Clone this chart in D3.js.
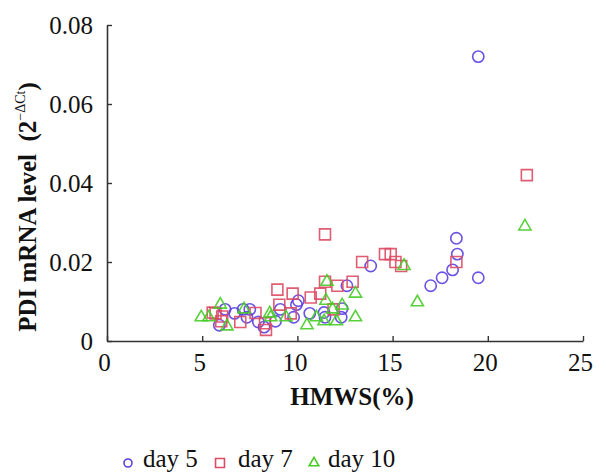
<!DOCTYPE html>
<html><head><meta charset="utf-8">
<script src="https://cdn.jsdelivr.net/npm/d3@7"></script>
<style>body{margin:0;background:#fff}svg{display:block}</style>
</head><body>
<svg id="c" width="606" height="473"></svg>
<script>
const xTicks = [0, 5, 10, 15, 20, 25];
const yTicks = [0, 0.02, 0.04, 0.06, 0.08];
const seriesNames = ["day 5", "day 7", "day 10"];
const day5X = [5.9, 6.2, 6.7, 7.15, 7.35, 7.5, 7.95, 8.25, 8.85, 9.1, 9.8, 9.95, 10.05, 10.65, 11.4, 11.45, 12.3, 12.35, 12.6, 13.85, 17.0, 17.6, 18.15, 18.35, 18.4, 19.5, 19.5];
const day5Y = [0.004, 0.008, 0.007, 0.008, 0.006, 0.008, 0.0048, 0.0035, 0.005, 0.008, 0.006, 0.0092, 0.0102, 0.007, 0.0072, 0.006, 0.006, 0.0082, 0.014, 0.019, 0.014, 0.016, 0.018, 0.026, 0.022, 0.072, 0.016];
const day7X = [5.55, 5.7, 6.0, 6.05, 7.0, 7.8, 8.3, 8.35, 8.95, 9.05, 9.65, 9.75, 10.7, 11.2, 11.45, 11.45, 11.9, 12.1, 12.9, 13.4, 14.6, 14.9, 15.15, 15.45, 18.35, 22.05];
const day7Y = [0.0072, 0.007, 0.005, 0.0062, 0.0048, 0.0071, 0.0045, 0.0028, 0.013, 0.0092, 0.007, 0.012, 0.011, 0.012, 0.027, 0.015, 0.008, 0.014, 0.015, 0.02, 0.022, 0.022, 0.02, 0.019, 0.02, 0.042];
const day10X = [4.95, 5.35, 5.95, 6.3, 7.2, 8.55, 8.6, 9.4, 10.5, 11.0, 11.4, 11.5, 11.55, 11.85, 12.05, 12.35, 13.05, 13.05, 15.6, 16.3, 21.95];
const day10Y = [0.006, 0.006, 0.0092, 0.0037, 0.008, 0.007, 0.006, 0.006, 0.004, 0.006, 0.005, 0.0102, 0.015, 0.008, 0.005, 0.009, 0.012, 0.006, 0.019, 0.0098, 0.029];

const colors = ["#5a3fe0", "#dc4a64", "#46cc26"];
const shapes = [d3.symbolCircle, d3.symbolSquare, d3.symbolTriangle];
const sizes = [100, 120, 64];
const series = [
  {name: seriesNames[0], xs: day5X, ys: day5Y},
  {name: seriesNames[1], xs: day7X, ys: day7Y},
  {name: seriesNames[2], xs: day10X, ys: day10Y}
];

const svg = d3.select("#c");
const font = "'Liberation Serif','Times New Roman',serif";
const x = d3.scaleLinear().domain([0, 25]).range([107, 583]);
const y = d3.scaleLinear().domain([0, 0.08]).range([341, 25]);

// axes
const gx = svg.append("g").attr("transform", "translate(0,341)")
  .call(d3.axisBottom(x).tickValues(xTicks).tickSize(-5).tickSizeOuter(0).tickPadding(12).tickFormat(d3.format("d")));
const gy = svg.append("g").attr("transform", "translate(107,0)")
  .call(d3.axisLeft(y).tickValues(yTicks).tickSize(-5).tickSizeOuter(0).tickPadding(14).tickFormat(d => d === 0 ? "0" : d3.format(".2f")(d)));
[gx, gy].forEach(g => {
  g.select(".domain").attr("stroke", "#333").attr("stroke-width", 1.6);
  g.selectAll(".tick line").attr("stroke", "#333").attr("stroke-width", 1.4);
  g.selectAll(".tick text").attr("font-family", font).attr("font-size", 25).attr("fill", "#111");
});
gx.selectAll(".tick text").attr("dy", "0.72em").attr("dx", -3);
gy.selectAll(".tick text").attr("dy", "0.34em");

// points
series.forEach((s, i) => {
  const sym = d3.symbol().type(shapes[i]).size(sizes[i]);
  svg.append("g").selectAll("path").data(s.xs.map((v, j) => [v, s.ys[j]])).join("path")
    .attr("d", sym)
    .attr("transform", d => `translate(${x(d[0])},${y(d[1])})`)
    .attr("fill", "none").attr("stroke", colors[i]).attr("stroke-width", 1.6).attr("opacity", 0.9);
});

// axis titles
svg.append("text").attr("x", 352).attr("y", 405).attr("text-anchor", "middle")
  .attr("font-family", font).attr("font-size", 25).attr("font-weight", "bold").attr("fill", "#111")
  .text("HMWS(%)");
const yt = svg.append("text").attr("transform", "translate(36,207) rotate(-90)").attr("text-anchor", "middle")
  .attr("font-family", font).attr("font-size", 25).attr("font-weight", "bold").attr("fill", "#111");
yt.append("tspan").text("PDI mRNA level\u00a0 (2");
yt.append("tspan").attr("font-size", 14).attr("font-weight", "normal").attr("dy", -11).text("\u2212\u0394Ct");
yt.append("tspan").attr("dy", 11).text(")");

// legend
const legX = [128, 220, 314];
const legTX = [143, 238, 328];
const legSizes = [50, 80, 40];
series.forEach((s, i) => {
  svg.append("path").attr("d", d3.symbol().type(shapes[i]).size(legSizes[i]))
    .attr("transform", `translate(${legX[i]},463)`)
    .attr("fill", "none").attr("stroke", colors[i]).attr("stroke-width", 1.6);
  svg.append("text").attr("x", legTX[i]).attr("y", 467)
    .attr("font-family", font).attr("font-size", 25).attr("fill", "#111").text(s.name);
});
</script>
</body></html>
